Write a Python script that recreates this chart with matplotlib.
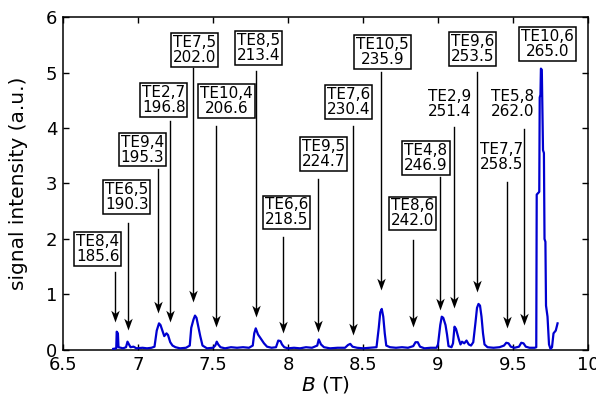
import matplotlib
matplotlib.use('Agg')
import matplotlib.pyplot as plt
from matplotlib.path import Path
import numpy as np

# measured spectrum: magnetic field (T) vs. signal intensity (a.u.)
field_b = [6.835, 6.855, 6.858, 6.866, 6.870, 6.90, 6.92, 6.93, 6.94, 6.95,
           6.97, 6.99, 7.03, 7.06, 7.09, 7.11, 7.125, 7.14, 7.15, 7.165,
           7.175, 7.19, 7.20, 7.215, 7.23, 7.25, 7.28, 7.32, 7.345, 7.355,
           7.37, 7.38, 7.39, 7.40, 7.415, 7.43, 7.46, 7.50, 7.515, 7.525,
           7.535, 7.55, 7.58, 7.62, 7.66, 7.70, 7.74, 7.765, 7.775, 7.785,
           7.80, 7.82, 7.84, 7.86, 7.89, 7.92, 7.935, 7.95, 7.96, 7.975,
           8.00, 8.04, 8.08, 8.12, 8.16, 8.195, 8.205, 8.22, 8.24, 8.28,
           8.33, 8.38, 8.40, 8.415, 8.43, 8.46, 8.50, 8.55, 8.59, 8.605,
           8.615, 8.625, 8.635, 8.645, 8.655, 8.68, 8.72, 8.76, 8.80, 8.835,
           8.85, 8.865, 8.88, 8.91, 8.95, 8.99, 9.00, 9.015, 9.025, 9.035,
           9.05, 9.06, 9.07, 9.09, 9.10, 9.11, 9.12, 9.13, 9.14, 9.15,
           9.16, 9.175, 9.19, 9.205, 9.22, 9.235, 9.25, 9.26, 9.27, 9.28,
           9.29, 9.30, 9.31, 9.33, 9.37, 9.41, 9.44, 9.455, 9.47, 9.485,
           9.51, 9.54, 9.555, 9.57, 9.585, 9.61, 9.645, 9.655, 9.658, 9.675,
           9.678, 9.683, 9.686, 9.692, 9.695, 9.700, 9.706, 9.710, 9.716, 9.720,
           9.730, 9.740, 9.750, 9.760, 9.770, 9.785, 9.797]
signal = [0.02, 0.03, 0.33, 0.30, 0.05, 0.03, 0.05, 0.15, 0.10, 0.05,
          0.06, 0.03, 0.04, 0.03, 0.04, 0.06, 0.35, 0.48, 0.45, 0.33,
          0.25, 0.30, 0.27, 0.14, 0.08, 0.05, 0.03, 0.04, 0.08, 0.40,
          0.55, 0.62, 0.58, 0.45, 0.25, 0.08, 0.03, 0.04, 0.08, 0.15,
          0.10, 0.05, 0.03, 0.05, 0.04, 0.05, 0.04, 0.08, 0.30, 0.39,
          0.28, 0.20, 0.12, 0.06, 0.04, 0.05, 0.17, 0.16, 0.10, 0.05,
          0.03, 0.04, 0.03, 0.05, 0.04, 0.08, 0.19, 0.10, 0.05, 0.03,
          0.04, 0.04, 0.09, 0.11, 0.06, 0.04, 0.03, 0.04, 0.05, 0.40,
          0.68, 0.74, 0.60, 0.30, 0.08, 0.05, 0.04, 0.05, 0.04, 0.07,
          0.14, 0.14, 0.06, 0.03, 0.04, 0.04, 0.10, 0.45, 0.60, 0.58,
          0.45, 0.28, 0.07, 0.05, 0.12, 0.42, 0.38, 0.28, 0.18, 0.10,
          0.15, 0.12, 0.17, 0.10, 0.08, 0.14, 0.50, 0.76, 0.83, 0.80,
          0.60, 0.30, 0.10, 0.05, 0.04, 0.05, 0.08, 0.13, 0.12, 0.06,
          0.04, 0.06, 0.13, 0.12, 0.06, 0.04, 0.04, 0.05, 2.80, 2.85,
          4.55, 4.60, 5.07, 5.05, 4.50, 3.60, 3.55, 2.00, 1.95, 0.80,
          0.60, 0.10, 0.02, 0.05, 0.30, 0.35, 0.48]

# mode assignments with their frequencies (GHz)
modes = ['TE8,4', 'TE6,5', 'TE9,4', 'TE2,7', 'TE7,5', 'TE10,4', 'TE8,5',
         'TE6,6', 'TE9,5', 'TE7,6', 'TE10,5', 'TE8,6', 'TE4,8', 'TE2,9',
         'TE9,6', 'TE7,7', 'TE5,8', 'TE10,6']
mode_freq = [185.6, 190.3, 195.3, 196.8, 202.0, 206.6, 213.4, 218.5, 224.7,
             230.4, 235.9, 242.0, 246.9, 251.4, 253.5, 258.5, 262.0, 265.0]
# field position the arrow points at (None = label sits on the peak itself)
mode_b = [6.847, 6.933, 7.133, 7.213, 7.369, 7.518, 7.784, 7.964, 8.203,
          8.43, 8.62, 8.831, 9.015, 9.106, 9.262, 9.458, 9.571, None]

# label layout: text centre, arrow start/end heights, framed or not
label_x = [6.732, 6.925, 7.029, 7.172, 7.375, 7.589, 7.805, 7.991, 8.238,
           8.402, 8.63, 8.83, 8.919, 9.08, 9.23, 9.425, 9.498, 9.73]
label_y = [1.825, 2.757, 3.61, 4.50, 5.41, 4.49, 5.44, 2.48, 3.53,
           4.47, 5.37, 2.46, 3.46, 4.44, 5.42, 3.48, 4.43, 5.51]
arrow_top = [1.41, 2.29, 3.27, 4.13, 5.08, 4.04, 5.03, 2.04, 3.08,
             4.04, 5.01, 1.98, 3.12, 4.02, 5.01, 3.03, 3.98, None]
arrow_tip = [0.51, 0.36, 0.67, 0.51, 0.87, 0.42, 0.60, 0.30, 0.33,
             0.27, 1.08, 0.42, 0.72, 0.75, 1.05, 0.39, 0.45, None]
framed = [True, True, True, True, True, True, True, True, True,
          True, True, True, True, False, True, False, False, True]

# notched arrowhead, tip at the origin
head = Path([(0, 0), (-0.36, 1.0), (0, 0.72), (0.36, 1.0), (0, 0)],
            [Path.MOVETO, Path.LINETO, Path.LINETO, Path.LINETO, Path.CLOSEPOLY])

fig = plt.figure(figsize=(5.96, 4.01), dpi=100)
ax = fig.add_axes([0.1057, 0.1272, 0.8809, 0.8304])

ax.plot(field_b, signal, color='#0000d0', lw=1.6, zorder=3)

for i, name in enumerate(modes):
    bbox = None
    if framed[i]:
        bbox = dict(boxstyle='square,pad=0.12', fc='white', ec='black', lw=1.1)
    ax.text(label_x[i], label_y[i], f'{name}\n{mode_freq[i]:.1f}', fontsize=11,
            ha='center', va='center', multialignment='center', linespacing=1.0,
            bbox=bbox, zorder=4)
    if mode_b[i] is None:
        continue
    ax.plot([mode_b[i], mode_b[i]], [arrow_top[i], arrow_tip[i] + 0.1],
            color='black', lw=1.0, zorder=2)
    ax.plot(mode_b[i], arrow_tip[i], marker=head, markersize=17,
            color='black', markeredgewidth=0, zorder=2)

ax.set_xlim(6.5, 10)
ax.set_ylim(0, 6)
ax.set_xticks(np.arange(6.5, 10.01, 0.5))
ax.set_xticklabels(['6.5', '7', '7.5', '8', '8.5', '9', '9.5', '10'])
ax.set_yticks(range(0, 7))
ax.tick_params(direction='in', top=True, right=True, length=4, width=1,
               labelsize=13, pad=4)
for s in ax.spines.values():
    s.set_linewidth(1.1)

ax.set_xlabel('$\\it{B}$ (T)', fontsize=14.5, labelpad=0)
ax.set_ylabel('signal intensity (a.u.)', fontsize=14.5, labelpad=13)

fig.savefig('out.png', dpi=100)
